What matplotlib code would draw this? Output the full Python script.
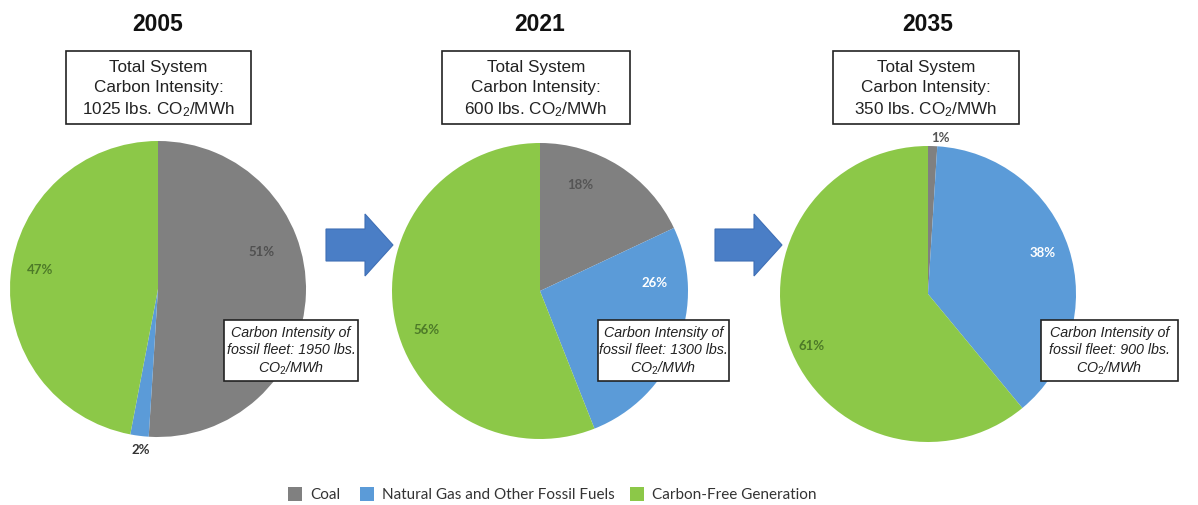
import matplotlib
matplotlib.use("Agg")
import matplotlib.pyplot as plt
from matplotlib.patches import FancyArrow, Rectangle

plt.rcParams["font.family"] = ["Liberation Sans", "DejaVu Sans"]
plt.rcParams["mathtext.fontset"] = "custom"
plt.rcParams["mathtext.rm"] = "Liberation Sans"
plt.rcParams["mathtext.it"] = "Liberation Sans:italic"

# Generation mix by year (percent of total)
years = ["2005", "2021", "2035"]
categories = ["Coal", "Natural Gas and Other Fossil Fuels", "Carbon-Free Generation"]
coal = [51, 18, 1]
gas = [2, 26, 38]
carbon_free = [47, 56, 61]
system_intensity = [1025, 600, 350]      # lbs CO2/MWh, whole system
fossil_intensity = [1950, 1300, 900]     # lbs CO2/MWh, fossil fleet only

colors = ["#808080", "#5b9bd8", "#8cc848"]
label_colors = [["#505050", "#333333", "#4d7a28"],
                ["#555555", "#ffffff", "#4d7a28"],
                ["#555555", "#ffffff", "#4d7a28"]]

W, H = 1198, 506
fig = plt.figure(figsize=(W / 100, H / 100), dpi=100)
ax = fig.add_axes([0, 0, 1, 1])
ax.set_xlim(0, W)
ax.set_ylim(0, H)
ax.axis("off")


def Y(y):
    return H - y


# layout in pixels (x, y from top)
centers = [(158, 290), (540, 292), (928, 295)]
radius = 148
title_pos = [(158, 24), (540, 24), (928, 24)]
sys_box = [(66, 52, 185, 73), (442, 52, 188, 73), (833, 52, 186, 73)]
fossil_box = [(224, 321, 134, 61), (598, 321, 131, 61), (1041, 321, 137, 61)]
pct_pos = [[(262, 252), (141, 450), (40, 270)],
           [(580, 185), (655, 283), (427, 330)],
           [(940, 138), (1043, 253), (812, 346)]]

for i, year in enumerate(years):
    vals = [coal[i], gas[i], carbon_free[i]]
    cx, cy = centers[i]
    ax.pie(vals, colors=colors, startangle=90, counterclock=False,
           center=(cx, Y(cy)), radius=radius, frame=True,
           wedgeprops=dict(linewidth=0))
    for j, v in enumerate(vals):
        px, py = pct_pos[i][j]
        ax.text(px, Y(py), f"{v}%", ha="center", va="center",
                fontsize=9.5, fontweight="bold", color=label_colors[i][j],
                family=["Lato", "DejaVu Sans"])

    tx, ty = title_pos[i]
    ax.text(tx, Y(ty), year, ha="center", va="center",
            fontsize=16.5, fontweight="bold", color="#111111")

    bx, by, bw, bh = sys_box[i]
    ax.add_patch(Rectangle((bx, Y(by + bh)), bw, bh, facecolor="white",
                           edgecolor="#222222", linewidth=1.2, zorder=3))
    ax.text(bx + bw / 2, Y(by + bh / 2 + 1),
            f"Total System\nCarbon Intensity:\n{system_intensity[i]} lbs. CO$_2$/MWh",
            ha="center", va="center", fontsize=12.3, color="#222222",
            linespacing=1.4, zorder=4)

    fx, fy, fw, fh = fossil_box[i]
    ax.add_patch(Rectangle((fx, Y(fy + fh)), fw, fh, facecolor="white",
                           edgecolor="#222222", linewidth=1.2, zorder=3))
    ax.text(fx + fw / 2, Y(fy + fh / 2),
            f"Carbon Intensity of\nfossil fleet: {fossil_intensity[i]} lbs.\n"
            r"CO$_\mathit{2}$/MWh",
            ha="center", va="center", fontsize=10.3, style="italic",
            color="#222222", linespacing=1.25, zorder=4)

# block arrows between the years
for x0 in (326, 715):
    ax.add_patch(FancyArrow(x0, Y(246), 67, 0, width=32, head_width=62,
                            head_length=28, length_includes_head=True,
                            facecolor="#4a7ec6", edgecolor="#3f6fb5",
                            linewidth=0.8))

# legend
legend_items = [(288, categories[0]), (360, categories[1]), (630, categories[2])]
for (lx, name), col in zip(legend_items, colors):
    ax.add_patch(Rectangle((lx, Y(502)), 14, 14, facecolor=col, edgecolor="none"))
    ax.text(lx + 22, Y(495), name, ha="left", va="center", fontsize=11,
            color="#333333", family=["Lato", "DejaVu Sans"])

fig.savefig("out.png", dpi=100, facecolor="white")
